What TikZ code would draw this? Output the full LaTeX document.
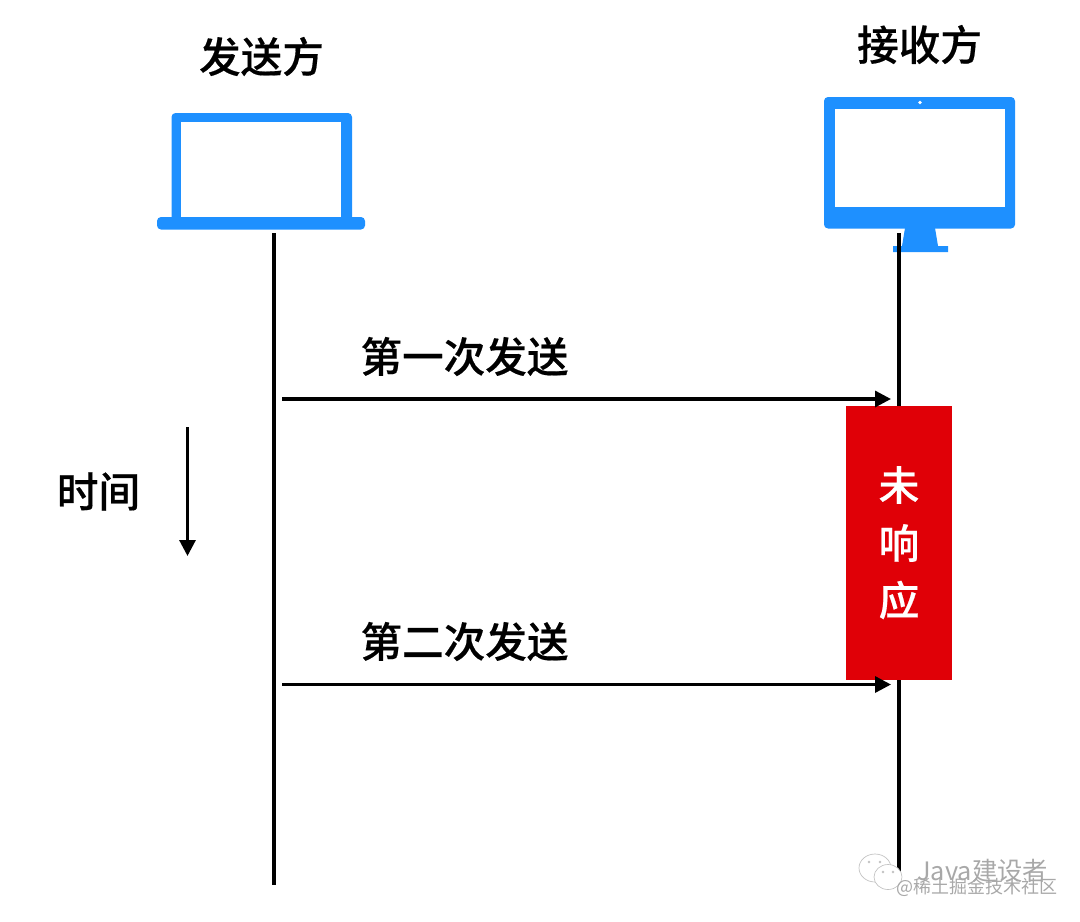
\documentclass[tikz,border=0pt]{standalone}
\usepackage{fontspec}
\setmainfont{Liberation Sans}
\newfontfamily\cjk{Noto Sans CJK SC}
\newfontfamily\cjkm[FakeBold=0.4]{Noto Sans CJK SC Medium}
\usetikzlibrary{arrows.meta}
\definecolor{devblue}{HTML}{1E90FF}
\definecolor{alertred}{HTML}{E00007}
\definecolor{markgray}{HTML}{A8A8A8}
\tikzset{
  px/.style={x=0.75pt,y=-0.75pt},
  blabel/.style={font=\cjkm\fontsize{31.2}{35}\selectfont,text=black,inner sep=0pt},
  wlabel/.style={font=\cjkm\fontsize{30.5}{35}\selectfont,text=white,inner sep=0pt},
  life/.style={line width=3pt,black},
  msg/.style={line width=2.5pt,black,-{Triangle[length=12pt,width=12pt]}},
  timearrow/.style={line width=2.3pt,black,-{Triangle[length=12pt,width=12pt]}},
  wmark/.style={text=markgray,inner sep=0pt},
  bubble/.style={draw=markgray!70,line width=0.5pt,fill=white}
}
\begin{document}
\begin{tikzpicture}[px]
\useasboundingbox (0,0) rectangle (1080,921);
% laptop
\fill[devblue,rounded corners=3pt] (171.5,113) rectangle (352,225);
\fill[white] (181,122) rectangle (341,217);
\fill[devblue,rounded corners=3pt] (157,217) -- (365,217) -- (365,229.5) -- (157,229.5) -- cycle;
% monitor
\fill[devblue,rounded corners=3pt] (824,97) rectangle (1015,228.5);
\fill[white] (835,109) rectangle (1005,207);
\fill[white] (920,102.5) circle (1.9);
\fill[devblue] (905,228) -- (935,228) -- (938,246) -- (948,246) -- (948,252) -- (893,252) -- (893,246) -- (902,246) -- cycle;
% anchors
\coordinate (senderTop) at (273.5,233);
\coordinate (senderEnd) at (273.5,885);
\coordinate (receiverTop) at (898.5,233);
\coordinate (receiverEnd) at (898.5,872);
\coordinate (m1s) at (282,399);
\coordinate (m1e) at (891,399);
\coordinate (m2s) at (282,684.5);
\coordinate (m2e) at (891,684.5);
\coordinate (timeS) at (187.5,427);
\coordinate (timeE) at (187.5,556);
\draw[life] (senderTop) -- (senderEnd);
\draw[life] (receiverTop) -- (receiverEnd);
% red block
\node[fill=alertred,minimum width=79.5pt,minimum height=205.5pt,inner sep=0pt,anchor=north west] (block) at (846,406) {};
\draw[msg] (m1s) -- (m1e);
\draw[msg] (m2s) -- (m2e);
\draw[timearrow] (timeS) -- (timeE);
% texts
\node[blabel] (sender) at (261.5,56.5) {发送方};
\node[blabel] (receiver) at (919.5,44.5) {接收方};
\node[blabel] (first) at (464.5,356.5) {第一次发送};
\node[blabel] (second) at (464.5,641.5) {第二次发送};
\node[blabel] (timeL) at (98.5,491.5) {时间};
\node[wlabel] (w1) at (899,485) {未};
\node[wlabel] (w2) at (899,543) {响};
\node[wlabel] (w3) at (899,600) {应};
% watermark
\draw[bubble] (875,868) ellipse (16 and 14);
\fill[markgray!70] (869,862) circle (1.3) (880,862) circle (1.3);
\draw[bubble] (888,877) ellipse (14 and 12.5);
\fill[markgray!70] (883,872) circle (1.3) (893,872) circle (1.3);
\node[wmark,font=\cjk\fontsize{19}{21}\selectfont,anchor=west] (wm1) at (917,871) {Java建设者};
\node[wmark,font=\cjk\fontsize{13.5}{16}\selectfont,anchor=west] (wm2) at (896,887) {@稀土掘金技术社区};
\end{tikzpicture}
\end{document}
